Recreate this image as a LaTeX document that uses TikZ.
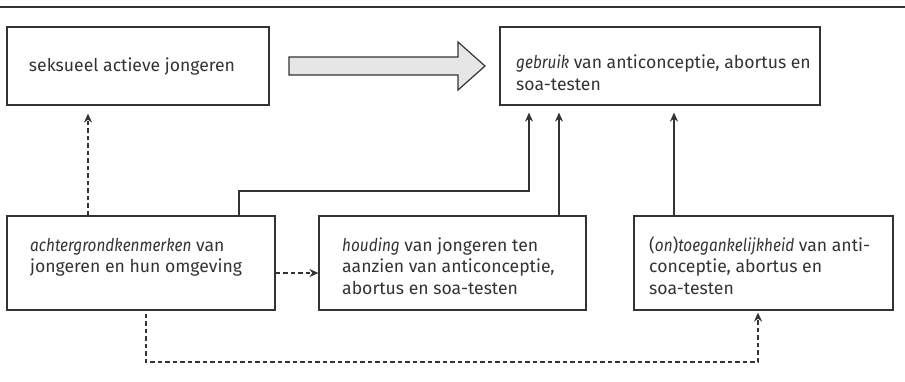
\documentclass[tikz,border=0pt]{standalone}
\usepackage{fontspec}
\setmainfont{Fira Sans}[ItalicFeatures={FakeStretch=0.87}]
\usetikzlibrary{arrows.meta}
\definecolor{ink}{HTML}{333333}
\definecolor{arrowfill}{HTML}{E6E6E6}
\begin{document}
\begin{tikzpicture}[x=1pt,y=-1pt,
  box/.style={draw=ink, line width=1.2pt, rectangle, inner sep=0pt},
  txt/.style={anchor=base west, inner sep=0pt, text=ink, font=\fontsize{17.6}{21.8}\selectfont},
  conn/.style={draw=ink, line width=1.2pt, -{Stealth[length=9pt,width=8pt]}},
  dashconn/.style={conn, dash pattern=on 4.5pt off 3pt}]
\useasboundingbox (0,0) rectangle (905,381);
\draw[ink, line width=1.3pt] (0,7) -- (905,7);

% boxes
\node[box, minimum width=262pt, minimum height=78pt] (b1) at (138,66) {};
\node[box, minimum width=320pt, minimum height=78pt] (b2) at (660,66) {};
\node[box, minimum width=268pt, minimum height=94pt] (b3) at (141,263) {};
\node[box, minimum width=267pt, minimum height=94pt] (b4) at (452.5,263) {};
\node[box, minimum width=259pt, minimum height=94pt] (b5) at (763.5,263) {};

% texts
\node[txt, anchor=base] (t1) at (132,71) {seksueel actieve jongeren};
\node[txt] (t2) at (516,68.5) {\parbox[t]{400pt}{\raggedright\textit{gebruik} van anticonceptie, abortus en\\soa-testen}};
\node[txt] (t3) at (30,251) {\parbox[t]{400pt}{\raggedright\textit{achtergrondkenmerken} van\\jongeren en hun omgeving}};
\node[txt] (t4) at (342,251) {\parbox[t]{400pt}{\raggedright\textit{houding} van jongeren ten\\aanzien van anticonceptie,\\abortus en soa-testen}};
\node[txt] (t5) at (649,251) {\parbox[t]{400pt}{\raggedright(\textit{on})\textit{toegankelijkheid} van anti-\\conceptie, abortus en\\soa-testen}};

% big arrow
\draw[ink, fill=arrowfill, line width=1.2pt, line join=miter]
  (289,57) -- (458,57) -- (458,42) -- (485,66) -- (458,90) -- (458,75) -- (289,75) -- cycle;

% helper coordinates
\coordinate (x88) at (88,0);
\coordinate (x239) at (239,0);
\coordinate (cA) at (529,191);
\coordinate (x559) at (559,0);
\coordinate (x674) at (674,0);
\coordinate (y273) at (0,273);
\coordinate (x146) at (146,0);
\coordinate (cB) at (758,362);

% connectors
\draw[dashconn, shorten >=8pt] (b3.north -| x88) -- (b1.south -| x88);
\draw[conn, shorten >=7pt] (b3.north -| x239) |- (cA) -- (b2.south -| cA);
\draw[conn, shorten >=7pt] (b4.north -| x559) -- (b2.south -| x559);
\draw[conn, shorten >=7pt] (b5.north -| x674) -- (b2.south -| x674);
\draw[dashconn] (b3.east |- y273) -- (b4.west |- y273);
\draw[dashconn, shorten <=3pt, shorten >=2pt] (b3.south -| x146) |- (cB) -- (b5.south -| cB);
\end{tikzpicture}
\end{document}
